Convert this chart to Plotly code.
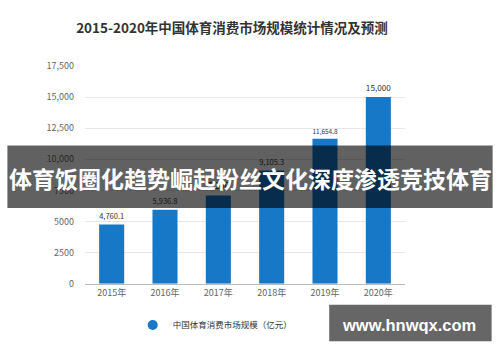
import plotly.graph_objects as go

years = ["2015年", "2016年", "2017年", "2018年", "2019年", "2020年"]
values = [4760.1, 5936.8, 7100, 9105.3, 11654.8, 15000]
value_labels = ["4,760.1", "5,936.8", "7,100", "9,105.3", "11,654.8", "15,000"]
tick_vals = [0, 2500, 5000, 7500, 10000, 12500, 15000, 17500]
tick_text = ["0", "2500", "5000", "7500", "10,000", "12,500", "15,000", "17,500"]
series_name = "中国体育消费市场规模（亿元）"
title_text = "2015-2020年中国体育消费市场规模统计情况及预测"
banner_text = "体育饭圈化趋势崛起粉丝文化深度渗透竞技体育"
site_text = "www.hnwqx.com"

FONT = "Noto Sans CJK SC"
BLUE = "#1778c8"

L, R, T, B = 85.4, 404.6, 66, 293
W, H = 500, 362


def px(x):
    return (x - L) / (R - L)


def py(y):
    return (B - y) / (B - T)


fig = go.Figure()
fig.add_trace(go.Bar(
    x=years, y=values, marker=dict(color=BLUE, line=dict(width=0)),
    text=value_labels, textposition="outside", cliponaxis=False,
    textfont=dict(size=9, color="#333333", family=FONT),
    showlegend=False, width=0.47,
))
fig.add_trace(go.Scatter(
    x=[None], y=[None], mode="markers", name=series_name,
    marker=dict(color=BLUE, size=10, symbol="circle"), showlegend=True,
))

fig.update_layout(
    width=W, height=H,
    margin=dict(l=L, r=W - R, t=T, b=H - B),
    plot_bgcolor="white", paper_bgcolor="white",
    font=dict(family=FONT, color="#666666", size=9),
    title=dict(text="<b>" + title_text + "</b>", x=232 / W, xanchor="center",
               y=1 - 28 / H, yanchor="middle",
               font=dict(size=13.5, color="#333333", family=FONT)),
    xaxis=dict(showgrid=False, showline=True, linecolor="#bbbbbb", linewidth=1,
               ticks="", tickfont=dict(size=9, color="#666666")),
    yaxis=dict(range=[0, 17500], tickvals=tick_vals, ticktext=tick_text,
               showgrid=True, gridcolor="#e6e6e6", gridwidth=1, zeroline=False,
               showline=False, ticks="", ticklabelstandoff=10,
               tickfont=dict(size=9, color="#666666")),
    legend=dict(orientation="h", x=px(133), xanchor="left", y=1 - 325 / H,
                yanchor="middle", yref="container", font=dict(size=8.5, color="#333333"),
                bgcolor="rgba(0,0,0,0)", itemwidth=30),
    bargap=0.53,
    shapes=[
        dict(type="rect", xref="paper", yref="paper", layer="above",
             x0=px(8), x1=px(492), y0=py(214), y1=py(149),
             fillcolor="rgba(0,0,0,0.62)", line=dict(width=0)),
        dict(type="rect", xref="paper", yref="paper", layer="above",
             x0=px(329), x1=px(491), y0=py(353), y1=py(315),
             fillcolor="rgba(85,85,85,0.9)", line=dict(width=0)),
    ],
    annotations=[
        dict(text="亿元", xref="paper", yref="paper", x=px(36),
             y=py(163), textangle=-90, showarrow=False,
             font=dict(size=9, color="#666666", family=FONT)),
        dict(text="<b>" + banner_text + "</b>", xref="paper", yref="paper",
             x=px(250), y=py(183), showarrow=False,
             xanchor="center", yanchor="middle",
             font=dict(size=23, color="white", family=FONT)),
        dict(text="<b>" + site_text + "</b>", xref="paper", yref="paper",
             x=px(409), y=py(336), showarrow=False,
             xanchor="center", yanchor="middle",
             font=dict(size=16.5, color="white", family="Liberation Sans")),
    ],
)

fig.write_html("out.html")
